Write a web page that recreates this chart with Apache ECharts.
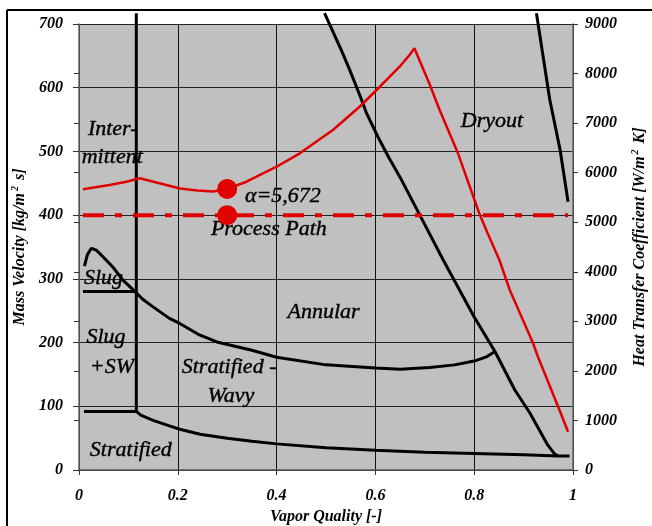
<!DOCTYPE html>
<html><head><meta charset="utf-8">
<script src="https://cdn.jsdelivr.net/npm/echarts@6/dist/echarts.min.js"></script>
<style>html,body{margin:0;padding:0;background:#fff;overflow:hidden}#c{width:652px;height:526px}</style>
</head><body><div id="c"></div>
<script>
// ---- data (vapor quality x, mass velocity kg/m2s or HTC W/m2K) ----
const stratifiedBoundary = [[0.01,92],[0.116,92],[0.125,86],[0.15,78],[0.18,70],[0.204,64],[0.245,56],[0.3,50],[0.35,45],[0.4,41],[0.5,35],[0.6,31],[0.7,28],[0.8,26],[0.9,24],[0.97,22],[0.993,22]];
const slugSwLine = [[0.008,280],[0.116,280]];
const annularBoundary = [[0.011,320],[0.017,338],[0.025,348],[0.035,345],[0.048,335],[0.068,319],[0.089,298],[0.116,278],[0.129,268],[0.15,256],[0.183,238],[0.204,230],[0.244,212],[0.279,201],[0.35,188],[0.4,177],[0.5,165],[0.6,160],[0.65,158],[0.71,161],[0.76,165],[0.8,171],[0.826,178],[0.842,186]];
const intermittentLine = [[0.116,92],[0.116,717]];
const dryoutBoundary = [[0.497,717],[0.531,659],[0.548,628],[0.572,581],[0.582,560],[0.605,523],[0.626,492],[0.653,455],[0.69,400],[0.737,330],[0.8,240],[0.842,186],[0.882,126],[0.913,89],[0.949,39],[0.963,25],[0.97,22]];
const mistBoundary = [[0.926,717],[0.953,581],[0.974,502],[0.99,421]];
const htcCurve = [[0.008,5664],[0.062,5751],[0.096,5817],[0.123,5886],[0.163,5785],[0.204,5680],[0.24,5640],[0.271,5620],[0.3,5672],[0.339,5817],[0.4,6120],[0.447,6390],[0.514,6860],[0.568,7330],[0.609,7734],[0.649,8138],[0.669,8374],[0.679,8509],[0.71,7780],[0.73,7264],[0.767,6396],[0.81,5186],[0.827,4782],[0.851,4237],[0.872,3632],[0.919,2562],[0.929,2286],[0.97,1277],[0.99,773]];
const processPath = [[0.008,400],[0.99,400]];
const pointMassVelocity = [[0.3,400]];
const pointHtc = [[0.3,5672]];
const annotations = [
  ['Inter-',0.019,534],['mittent',0.0065,490],['\u03b1=5,672',0.337,429],['Process Path',0.268,377],
  ['Dryout',0.774,547],['Slug',0.011,300],['Slug',0.016,207],['+SW',0.023,161],
  ['Annular',0.423,247],['Stratified -',0.209,160],['Wavy',0.261,115],['Stratified',0.023,31]
];
const xTicks = {min:0,max:1,interval:0.2};
const yLeftTicks = {min:0,max:700,interval:100};
const yRightTicks = {min:0,max:9000,interval:1000};

const serif = '"Liberation Serif","Times New Roman",serif';
const tickFont = {fontFamily:serif,fontStyle:'italic',fontWeight:'bold',fontSize:16,color:'#000'};
const nameFont = {fontFamily:serif,fontStyle:'italic',fontWeight:'bold',fontSize:16,color:'#000',
  rich:{n:{fontFamily:serif,fontStyle:'italic',fontWeight:'bold',fontSize:16,color:'#000',lineHeight:20},
        sup:{fontFamily:serif,fontStyle:'italic',fontWeight:'bold',fontSize:10,color:'#000',verticalAlign:'top',lineHeight:20,padding:[0,2,0,2]}}};
const RED = '#e00000';

const chart = echarts.init(document.getElementById('c'));
const blackLine = (data) => ({type:'line',yAxisIndex:0,data,symbol:'none',clip:false,z:3,
  lineStyle:{color:'#000',width:3}});

chart.setOption({
  animation:false,
  grid:{left:79,right:79,top:24,bottom:56,outerBoundsMode:'none',containLabel:false,show:true,backgroundColor:'#c0c0c0',borderWidth:0},
  graphic:[
    {type:'line',shape:{x1:7,y1:10,x2:652,y2:10},style:{stroke:'#000',lineWidth:2},z:100},
    {type:'line',shape:{x1:7,y1:10,x2:7,y2:526},style:{stroke:'#000',lineWidth:2},z:100}
  ],
  xAxis:{type:'value',...xTicks,
    axisLine:{show:true,lineStyle:{color:'#555',width:1.5}},
    axisTick:{show:true,length:5,lineStyle:{color:'#333'}},
    axisLabel:{...tickFont,margin:18},
    splitLine:{show:true,lineStyle:{color:'#111',width:1}},
    name:'Vapor Quality [-]',nameLocation:'middle',nameGap:35,nameTextStyle:{fontFamily:serif,fontStyle:'italic',fontWeight:'bold',fontSize:16,color:'#000'}},
  yAxis:[
    {type:'value',position:'left',...yLeftTicks,
      axisLine:{show:true,onZero:false,lineStyle:{color:'#666',width:1.5}},
      axisTick:{show:true,length:6,lineStyle:{color:'#333'}},
      axisLabel:{...tickFont,margin:16},
      splitLine:{show:true,lineStyle:{color:'#222',width:1}},
      name:'{n|Mass Velocity [kg/m}{sup|2}{n| s]}',nameLocation:'middle',nameGap:46,nameRotate:90,nameTextStyle:nameFont},
    {type:'value',position:'right',...yRightTicks,
      axisLine:{show:true,onZero:false,lineStyle:{color:'#666',width:1.5}},
      axisTick:{show:true,length:5,lineStyle:{color:'#333'}},
      axisLabel:{...tickFont,margin:12,formatter:(v)=>String(v)},
      splitLine:{show:false},
      name:'{n|Heat Transfer Coefficient [W/m}{sup|2}{n| K]}',nameLocation:'middle',nameGap:57,nameRotate:90,nameTextStyle:nameFont},
    {type:'value',position:'right',...yRightTicks,
      axisLine:{show:false},axisTick:{show:true,inside:true,length:5,lineStyle:{color:'#333'}},
      axisLabel:{show:false},splitLine:{show:false}}
  ],
  series:[
    {type:'scatter',yAxisIndex:0,z:1,symbolSize:1,itemStyle:{color:'#c0c0c0',opacity:1},silent:true,
      data:annotations.map(a=>({name:a[0],value:[a[1],a[2]]})),
      label:{show:true,formatter:'{b}',position:[0,0],align:'left',verticalAlign:'middle',
        fontFamily:serif,fontStyle:'italic',fontSize:22,color:'#000',textBorderColor:'#000',textBorderWidth:0.4}},
    blackLine(stratifiedBoundary),
    blackLine(slugSwLine),
    blackLine(annularBoundary),
    blackLine(intermittentLine),
    blackLine(dryoutBoundary),
    blackLine(mistBoundary),
    {type:'line',yAxisIndex:1,data:htcCurve,symbol:'none',clip:false,z:4,lineStyle:{color:RED,width:2.5}},
    {type:'line',yAxisIndex:0,data:processPath,symbol:'none',clip:false,z:4,lineStyle:{color:RED,width:4,type:[21,11,7,11]}},
    {type:'scatter',yAxisIndex:0,data:pointMassVelocity,symbol:'circle',symbolSize:20,z:5,itemStyle:{color:RED,opacity:1}},
    {type:'scatter',yAxisIndex:1,data:pointHtc,symbol:'circle',symbolSize:20,z:5,itemStyle:{color:RED,opacity:1}}
  ]
});
</script></body></html>
